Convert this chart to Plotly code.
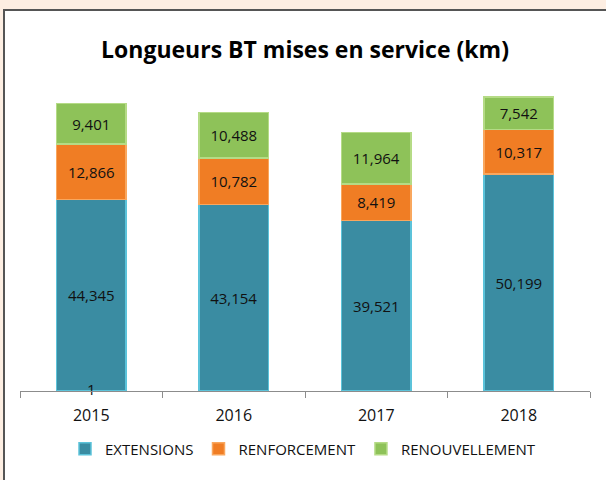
import plotly.graph_objects as go

years = ["2015", "2016", "2017", "2018"]
extensions = [44345, 43154, 39521, 50199]
renforcement = [12866, 10782, 8419, 10317]
renouvellement = [9401, 10488, 11964, 7542]
stray_label_x = ["2015"]
stray_label_y = [0]
stray_label_text = ["1"]

title = "Longueurs BT mises en service (km)"
FONT = "Open Sans, sans-serif"

fig = go.Figure()
series = [
    ("EXTENSIONS", extensions, "#3A8CA2", "#5CC3DA"),
    ("RENFORCEMENT", renforcement, "#F07D24", "#F9A75E"),
    ("RENOUVELLEMENT", renouvellement, "#8EC259", "#B5DB86"),
]
for name, vals, col, edge in series:
    fig.add_trace(go.Bar(
        x=years, y=vals, name=name,
        marker=dict(color=col, line=dict(color=edge, width=1.5)),
        texttemplate="%{y:,}", textposition="inside", insidetextanchor="middle",
        textangle=0, constraintext="none",
        textfont=dict(family=FONT, size=15, color="#111111"),
        hoverinfo="skip",
    ))

fig.add_trace(go.Scatter(
    x=stray_label_x, y=stray_label_y, text=stray_label_text, mode="text",
    textposition="middle center", textfont=dict(family=FONT, size=15, color="#111111"),
    showlegend=False, hoverinfo="skip", cliponaxis=False,
))

fig.update_layout(
    width=606, height=480,
    margin=dict(l=0, r=0, t=0, b=0),
    paper_bgcolor="#FDEEE2",
    plot_bgcolor="rgba(0,0,0,0)",
    barmode="stack",
    bargap=0.51,
    font=dict(family=FONT, size=15, color="#111111"),
    title=dict(text="<b>" + title + "</b>", x=305 / 606, xanchor="center",
               y=(480 - 50) / 480, yanchor="middle",
               font=dict(family=FONT, size=23, color="#000000")),
    xaxis=dict(domain=[20 / 606, 590 / 606], type="category",
               showline=True, linecolor="#8c8c8c", linewidth=1,
               ticks="outside", tickson="boundaries", ticklen=6, tickcolor="#8c8c8c",
               ticklabelstandoff=10,
               tickfont=dict(family=FONT, size=16, color="#111111"), showgrid=False),
    yaxis=dict(domain=[(480 - 391) / 480, (480 - 80) / 480], range=[0, 72000],
               visible=False, showgrid=False),
    legend=dict(orientation="h", x=303 / 606, xanchor="center",
                y=(480 - 449) / 480, yanchor="middle",
                font=dict(family=FONT, size=15, color="#111111"),
                bgcolor="rgba(0,0,0,0)", traceorder="normal"),
    shapes=[dict(type="rect", xref="paper", yref="paper",
                 x0=4 / 606, x1=1.05, y0=-0.05, y1=(480 - 10) / 480,
                 fillcolor="#FFFFFF", line=dict(color="#555555", width=2),
                 layer="below")],
)

fig.write_html("out.html", config={"displayModeBar": False},
               post_script="document.body.style.margin='0px';")
